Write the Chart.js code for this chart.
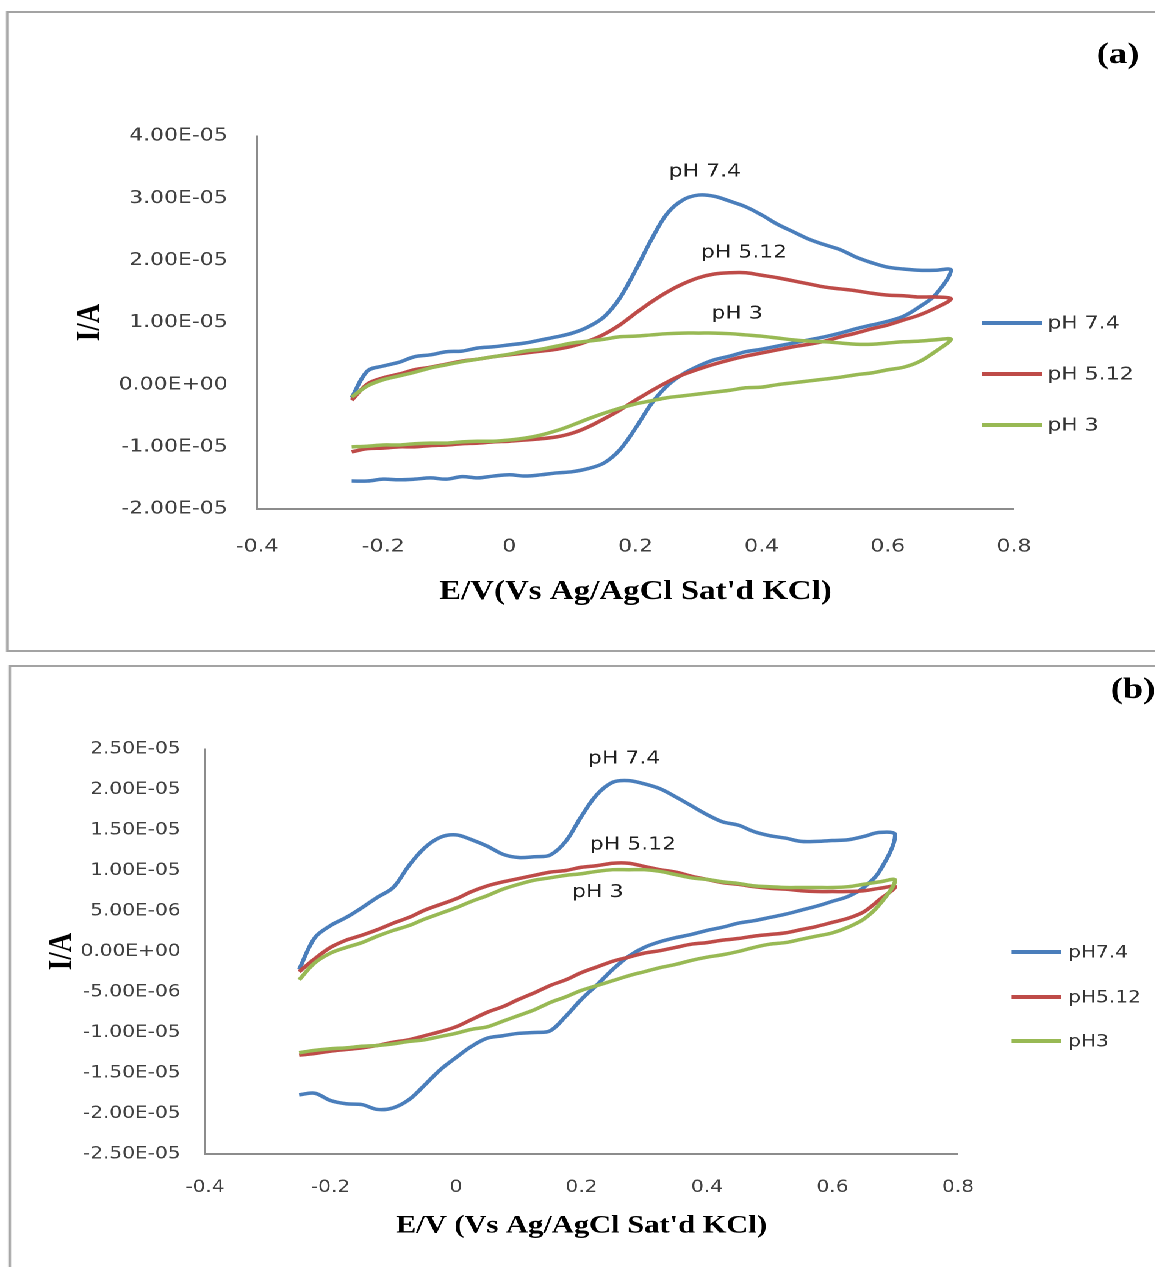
<!DOCTYPE html>
<html lang="en">
<head>
<meta charset="utf-8">
<title>Cyclic voltammograms at different pH</title>
<script src="https://cdn.jsdelivr.net/npm/chart.js@4.4.1/dist/chart.umd.min.js"></script>
<style>
  html, body { margin: 0; padding: 0; background: #fff; overflow: hidden; width: 1155px; height: 1267px; }
  /* the figure is laid out at 947px and widened to the full page width */
  #stage { position: absolute; left: 0; top: 0; width: 947px; height: 1267px; transform: scaleX(1.22); transform-origin: 0 0; }
  .frame { position: absolute; border: 2px solid #a3a3a3; box-sizing: border-box; }
  #frameA { left: 5px; top: 11px; width: 1000px; height: 641px; }
  #frameB { left: 7px; top: 665px; width: 1000px; height: 700px; }
  .plot { position: absolute; left: 0; width: 947px; }
  #plotA { top: 0; height: 655px; }
  #plotB { top: 655px; height: 612px; }
</style>
</head>
<body>
<div id="stage">
  <div class="frame" id="frameA"></div>
  <div class="frame" id="frameB"></div>
  <div class="plot" id="plotA"><canvas id="cvA"></canvas></div>
  <div class="plot" id="plotB"><canvas id="cvB"></canvas></div>
</div>
<script>
// Potential steps of every scan (V vs Ag/AgCl, sat'd KCl)
const potentials = [-0.25, -0.225, -0.2, -0.175, -0.15, -0.125, -0.1, -0.075, -0.05, -0.025,
  0, 0.025, 0.05, 0.075, 0.1, 0.125, 0.15, 0.175, 0.2, 0.225, 0.25, 0.275, 0.3, 0.325,
  0.35, 0.375, 0.4, 0.425, 0.45, 0.475, 0.5, 0.525, 0.55, 0.575, 0.6, 0.625, 0.65, 0.675, 0.7];

// Currents in microamps. "Fwd" follows potentials upward (-0.25 -> 0.70 V),
// "Rev" runs back from 0.675 V down to -0.25 V.
// Panel (a)
const aPH74Fwd = [-2.1, 2.2, 3.0, 3.6, 4.5, 4.8, 5.3, 5.4, 5.9, 6.1, 6.4, 6.7, 7.2, 7.7, 8.3, 9.3, 10.9, 13.9, 18.4, 23.3,
  27.5, 29.7, 30.5, 30.3, 29.5, 28.6, 27.3, 25.8, 24.6, 23.4, 22.5, 21.7, 20.5, 19.6, 18.9, 18.6, 18.4, 18.4, 18.4];
const aPH74Rev = [14.4, 12.5, 11.0, 10.2, 9.6, 9.0, 8.3, 7.7, 7.2, 6.7, 6.2, 5.7, 5.3, 4.6, 4.0, 3.0, 1.7, -0.2, -3.1, -7.0,
  -10.5, -12.6, -13.5, -14.0, -14.2, -14.5, -14.7, -14.5, -14.7, -15.0, -14.8, -15.2, -15.0, -15.2, -15.3, -15.2, -15.5, -15.5];
const aPH512Fwd = [-2.5, 0.1, 1.1, 1.7, 2.4, 2.8, 3.3, 3.8, 4.1, 4.5, 4.8, 5.1, 5.4, 5.7, 6.2, 7.0, 8.1, 9.6, 11.5, 13.3,
  14.9, 16.2, 17.2, 17.8, 18.0, 18.0, 17.6, 17.2, 16.7, 16.2, 15.7, 15.4, 15.1, 14.7, 14.4, 14.3, 14.1, 14.1, 13.8];
const aPH512Rev = [12.3, 11.2, 10.4, 9.6, 9.0, 8.3, 7.7, 7.0, 6.5, 6.1, 5.6, 5.1, 4.6, 4.0, 3.3, 2.5, 1.6, 0.4, -1.0, -2.5,
  -4.1, -5.5, -6.8, -7.8, -8.4, -8.7, -8.9, -9.1, -9.2, -9.4, -9.5, -9.7, -9.8, -10.0, -10.0, -10.2, -10.3, -10.8];
const aPH3Fwd = [-2.0, -0.2, 0.8, 1.4, 2.0, 2.7, 3.2, 3.7, 4.1, 4.5, 4.9, 5.4, 5.7, 6.2, 6.7, 7.0, 7.3, 7.7, 7.8, 8.0,
  8.2, 8.3, 8.3, 8.3, 8.2, 8.0, 7.8, 7.5, 7.2, 7.0, 6.9, 6.7, 6.5, 6.5, 6.7, 6.9, 7.0, 7.2, 7.3];
const aPH3Rev = [5.3, 3.7, 2.8, 2.4, 1.9, 1.6, 1.2, 0.9, 0.6, 0.3, 0.0, -0.4, -0.5, -0.9, -1.2, -1.5, -1.8, -2.1, -2.6, -3.1,
  -3.8, -4.6, -5.5, -6.5, -7.4, -8.1, -8.6, -8.9, -9.1, -9.1, -9.2, -9.4, -9.4, -9.5, -9.7, -9.7, -9.9, -10.0];

// Panel (b)
const bPH74Fwd = [-2.2, 1.7, 3.2, 4.2, 5.4, 6.7, 7.9, 10.6, 12.8, 14.1, 14.4, 13.8, 13.0, 12.0, 11.6, 11.7, 11.9, 13.6, 16.7, 19.4,
  20.9, 21.1, 20.7, 20.1, 19.1, 18.0, 16.9, 16.0, 15.6, 14.8, 14.3, 14.0, 13.6, 13.6, 13.7, 13.8, 14.2, 14.7, 14.4];
const bPH74Rev = [9.9, 7.9, 6.8, 6.2, 5.6, 5.1, 4.6, 4.2, 3.8, 3.5, 3.0, 2.6, 2.1, 1.7, 1.2, 0.5, -0.6, -2.2, -4.1, -5.9,
  -8.0, -9.8, -10.0, -10.1, -10.4, -10.7, -11.7, -13.1, -14.6, -16.5, -18.3, -19.3, -19.5, -18.9, -18.8, -18.4, -17.5, -17.7];
const bPH512Fwd = [-2.5, -0.9, 0.5, 1.4, 2.0, 2.7, 3.5, 4.2, 5.1, 5.8, 6.5, 7.4, 8.1, 8.6, 9.0, 9.4, 9.8, 10.0, 10.4, 10.6,
  10.9, 10.9, 10.5, 10.1, 9.8, 9.3, 8.9, 8.5, 8.3, 8.0, 7.8, 7.7, 7.5, 7.4, 7.4, 7.4, 7.5, 7.8, 8.0];
const bPH512Rev = [6.4, 4.9, 4.1, 3.6, 3.1, 2.7, 2.3, 2.1, 1.9, 1.6, 1.4, 1.1, 0.9, 0.5, 0.1, -0.2, -0.7, -1.2, -1.9, -2.6,
  -3.5, -4.2, -5.1, -5.9, -6.8, -7.5, -8.4, -9.3, -9.9, -10.4, -10.9, -11.2, -11.6, -11.9, -12.1, -12.3, -12.6, -12.8];
const bPH3Fwd = [-3.5, -1.4, -0.2, 0.5, 1.1, 1.9, 2.6, 3.2, 4.0, 4.7, 5.4, 6.2, 6.9, 7.7, 8.3, 8.8, 9.1, 9.4, 9.6, 9.9,
  10.1, 10.1, 10.1, 9.9, 9.5, 9.1, 8.9, 8.6, 8.4, 8.1, 8.0, 7.9, 7.9, 7.9, 7.9, 8.0, 8.3, 8.6, 8.8];
const bPH3Rev = [5.8, 4.0, 3.0, 2.3, 1.9, 1.5, 1.1, 0.9, 0.5, 0.0, -0.4, -0.7, -1.1, -1.6, -2.0, -2.5, -3.0, -3.6, -4.2, -4.8,
  -5.6, -6.3, -7.2, -7.9, -8.6, -9.3, -9.6, -10.1, -10.5, -10.9, -11.1, -11.4, -11.6, -11.7, -11.9, -12.0, -12.2, -12.5];

// Series names and axis ticks
const seriesNamesA = ['pH 7.4', 'pH 5.12', 'pH 3'];
const seriesNamesB = ['pH7.4', 'pH5.12', 'pH3'];
const peakNotes = ['pH 7.4', 'pH 5.12', 'pH 3'];
const potentialTicks = [-0.4, -0.2, 0, 0.2, 0.4, 0.6, 0.8];
const currentTicksA = [-2e-5, -1e-5, 0, 1e-5, 2e-5, 3e-5, 4e-5];
const currentTicksB = [-2.5e-5, -2e-5, -1.5e-5, -1e-5, -5e-6, 0, 5e-6, 1e-5, 1.5e-5, 2e-5, 2.5e-5];

const COLORS = ['#4a7ebb', '#be4b48', '#98b954'];
const SANS = "'DejaVu Sans', Verdana, sans-serif";
const SERIF = "'Liberation Serif', 'Times New Roman', serif";

// one closed voltammogram: forward sweep then the return sweep
function voltammogram(fwd, rev) {
  const pts = fwd.map((c, i) => ({ x: potentials[i], y: c * 1e-6 }));
  const back = potentials.slice(0, -1).reverse();
  rev.forEach((c, i) => pts.push({ x: back[i], y: c * 1e-6 }));
  return pts;
}

// Excel-like scientific label: 3.00E-05, 0.00E+00
function sci(v) {
  if (Math.abs(v) < 1e-12) return '0.00E+00';
  let exp = Math.floor(Math.log10(Math.abs(v)) + 1e-9);
  let mant = v / Math.pow(10, exp);
  if (Math.abs(Number(mant.toFixed(2))) >= 10) { exp += 1; mant = v / Math.pow(10, exp); }
  return mant.toFixed(2) + 'E' + (exp < 0 ? '-' : '+') + String(Math.abs(exp)).padStart(2, '0');
}

function fmtPotential(v) {
  return String(Number(v.toFixed(1)));
}

// peak labels, legend and panel tag drawn on top of the plot
function extrasPlugin(p) {
  return {
    id: 'extras_' + p.tag,
    afterDraw(chart) {
      const ctx = chart.ctx;
      const xs = chart.scales.x, ys = chart.scales.y;
      ctx.save();
      ctx.textBaseline = 'middle';
      ctx.font = '18px ' + SANS;
      ctx.fillStyle = '#1f1f1f';
      ctx.textAlign = 'center';
      p.notes.forEach((n, k) => {
        ctx.fillText(peakNotes[k], xs.getPixelForValue(n[0]), ys.getPixelForValue(n[1]));
      });
      ctx.font = p.legendFont + 'px ' + SANS;
      ctx.textAlign = 'left';
      ctx.fillStyle = '#333';
      chart.data.datasets.forEach((ds, k) => {
        const y = p.legendRows[k];
        ctx.strokeStyle = ds.borderColor;
        ctx.lineWidth = 4;
        ctx.lineCap = 'butt';
        ctx.beginPath();
        ctx.moveTo(p.legendX0, y);
        ctx.lineTo(p.legendX1, y);
        ctx.stroke();
        ctx.fillText(ds.label, p.legendText, y + 1);
      });
      ctx.font = 'bold 30px ' + SERIF;
      ctx.fillStyle = '#000';
      ctx.textAlign = 'center';
      ctx.fillText(p.tag, p.tagX, p.tagY);
      ctx.restore();
    }
  };
}

function buildPanel(canvasId, p) {
  const datasets = p.series.map((s, k) => ({
    label: p.names[k],
    data: voltammogram(s[0], s[1]),
    showLine: true,
    borderColor: COLORS[k],
    backgroundColor: COLORS[k],
    borderWidth: 3.5,
    pointRadius: 0,
    pointHoverRadius: 0,
    tension: 0.35,
    fill: false,
    order: 2 - k
  }));
  return new Chart(document.getElementById(canvasId), {
    type: 'scatter',
    data: { datasets },
    options: {
      responsive: true,
      maintainAspectRatio: false,
      animation: false,
      devicePixelRatio: 2,
      layout: { padding: { left: 0, top: p.top, right: p.right, bottom: 0 } },
      plugins: { legend: { display: false }, tooltip: { enabled: false }, title: { display: false } },
      scales: {
        x: {
          type: 'linear',
          min: -0.4, max: 0.8,
          grid: { display: false, drawTicks: false },
          border: { display: true, color: '#8c8c8c', width: 2 },
          afterBuildTicks: (s) => { s.ticks = potentialTicks.map(v => ({ value: v })); },
          afterFit: (s) => { s.height = p.xAxisHeight; },
          ticks: {
            autoSkip: false, maxRotation: 0, minRotation: 0,
            padding: p.xTickPad,
            color: '#404040',
            font: { family: SANS, size: p.tickFont },
            callback: (v) => fmtPotential(v)
          },
          title: {
            display: true,
            text: p.xTitle,
            color: '#000',
            font: { family: SERIF, size: p.xTitleFont, weight: 'bold' },
            padding: { top: 0, bottom: p.xTitlePad }
          }
        },
        y: {
          type: 'linear',
          min: p.yTicks[0], max: p.yTicks[p.yTicks.length - 1],
          grid: { display: false, drawTicks: false },
          border: { display: true, color: '#8c8c8c', width: 1.5 },
          afterBuildTicks: (s) => { s.ticks = p.yTicks.map(v => ({ value: v })); },
          afterFit: (s) => { s.width = p.yAxisWidth; },
          ticks: {
            autoSkip: false,
            padding: p.yTickPad,
            color: '#404040',
            font: { family: SANS, size: p.tickFont },
            callback: (v) => sci(v)
          },
          title: {
            display: true,
            text: 'I/A',
            color: '#000',
            font: { family: SERIF, size: 27, weight: 'bold' },
            padding: { top: p.yTitlePad, bottom: 0 }
          }
        }
      }
    },
    plugins: [extrasPlugin(p)]
  });
}

buildPanel('cvA', {
  series: [[aPH74Fwd, aPH74Rev], [aPH512Fwd, aPH512Rev], [aPH3Fwd, aPH3Rev]],
  names: seriesNamesA,
  yTicks: currentTicksA,
  top: 136, right: 115.9, yAxisWidth: 210.7, xAxisHeight: 146,
  tickFont: 18, yTickPad: 24, xTickPad: 27,
  xTitle: "E/V(Vs Ag/AgCl Sat'd KCl)", xTitleFont: 27, xTitlePad: 46.8, yTitlePad: 57.6,
  notes: [[0.31, 3.42e-5], [0.372, 2.12e-5], [0.361, 1.14e-5]],
  legendFont: 18, legendX0: 805, legendX1: 854.5, legendText: 858.5, legendRows: [323, 374, 425],
  tag: '(a)', tagX: 916.4, tagY: 55
});

buildPanel('cvB', {
  series: [[bPH74Fwd, bPH74Rev], [bPH512Fwd, bPH512Rev], [bPH3Fwd, bPH3Rev]],
  names: seriesNamesB,
  yTicks: currentTicksB,
  top: 94, right: 161.8, yAxisWidth: 168, xAxisHeight: 113,
  tickFont: 16.5, yTickPad: 20, xTickPad: 24,
  xTitle: "E/V (Vs Ag/AgCl Sat'd KCl)", xTitleFont: 25, xTitlePad: 26, yTitlePad: 34.6,
  notes: [[0.268, 2.38e-5], [0.282, 1.32e-5], [0.226, 7.3e-6]],
  legendFont: 16.5, legendX0: 829.2, legendX1: 869.7, legendText: 875.5, legendRows: [297, 342, 386],
  tag: '(b)', tagX: 928.7, tagY: 35
});
</script>
</body>
</html>
